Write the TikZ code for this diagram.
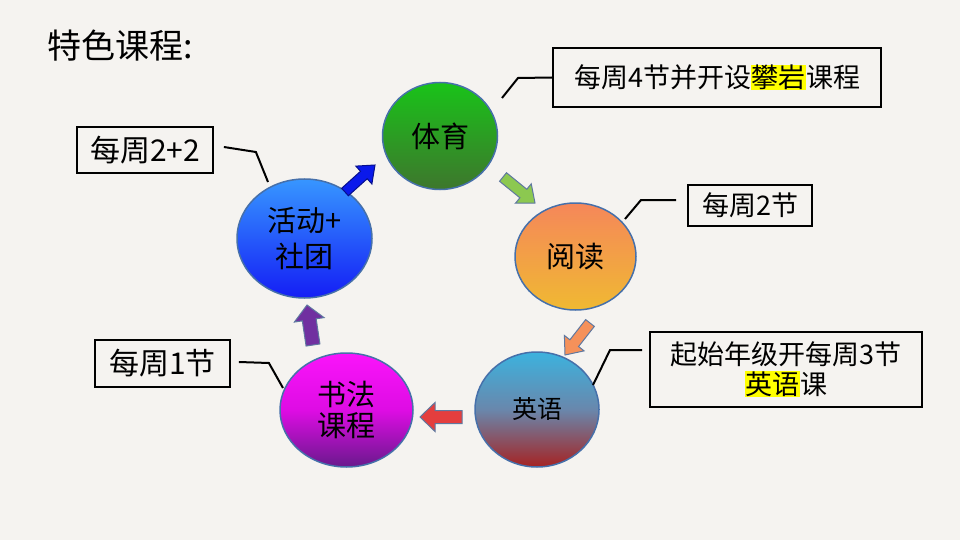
\documentclass[tikz,border=0pt]{standalone}
\usepackage{xcolor}
\usepackage{fontspec}
\setmainfont{Noto Sans CJK SC}
\usepackage{tikz}
\usetikzlibrary{shapes.geometric, calc, positioning}
\definecolor{mypaper}{RGB}{245,243,240}
\definecolor{myrim}{RGB}{70,112,170}
\definecolor{arrrim}{RGB}{95,120,160}
\definecolor{hlyellow}{RGB}{255,255,0}
\definecolor{peTop}{RGB}{25,195,25}
\definecolor{peBot}{RGB}{62,118,45}
\definecolor{rdTop}{RGB}{245,135,90}
\definecolor{rdBot}{RGB}{240,185,50}
\definecolor{enTop}{RGB}{60,178,222}
\definecolor{enMid}{RGB}{105,135,172}
\definecolor{enBot}{RGB}{165,35,35}
\definecolor{clTop}{RGB}{250,20,250}
\definecolor{clMid}{RGB}{222,12,228}
\definecolor{clBot}{RGB}{105,25,140}
\definecolor{acTop}{RGB}{55,150,255}
\definecolor{acBot}{RGB}{20,30,245}
\definecolor{arrblue}{RGB}{10,25,235}
\definecolor{arrgreen}{RGB}{140,200,80}
\definecolor{arrorange}{RGB}{245,145,90}
\definecolor{arrred}{RGB}{228,62,62}
\definecolor{arrpurple}{RGB}{112,48,160}
\tikzset{
  course/.style={ellipse, draw=myrim, line width=1.5pt, inner sep=0pt,
    align=center, font=\fontsize{29}{36}\selectfont},
  note/.style={rectangle, draw=black, line width=1.8pt, inner sep=0pt,
    align=center, font=\fontsize{27}{30}\selectfont},
  leader/.style={line width=2pt, color=black},
  fatarr/.style={draw=arrrim, line width=1pt, line join=miter}
}
\newcommand{\marktext}[1]{{\setlength{\fboxsep}{0.5pt}\colorbox{hlyellow}{#1}}}
% block arrow from tail #2 to tip #3, shaft half width #4, head half width #5
\newcommand{\fatarrow}[5][]{%
  \path ($(#3)!15pt!(#2)$) coordinate (fa-m);
  \draw[fatarr, #1] ($(#2)!#4!90:(#3)$) -- ($(fa-m)!#4!90:(#3)$)
    -- ($(fa-m)!#5!90:(#3)$) -- (#3) -- ($(fa-m)!#5!-90:(#3)$)
    -- ($(fa-m)!#4!-90:(#3)$) -- ($(#2)!#4!-90:(#3)$) -- cycle;
}

\begin{document}
\begin{tikzpicture}[x=1pt, y=-1pt]
  % paper background
  \fill[mypaper] (0,0) rectangle (960,540);
  \useasboundingbox (0,0) rectangle (960,540);

  % TITLE
  \node[anchor=west, font=\fontsize{34}{40}\selectfont] (title) at (44,46) {特色课程:};

  % COURSE CIRCLES
  \node[course, minimum width=115pt, minimum height=107pt,
    top color=peTop, bottom color=peBot] (pe) at (440,136) {体育};
  \node[course, minimum width=121pt, minimum height=107pt,
    top color=rdTop, bottom color=rdBot] (read) at (575.5,256.5) {阅读};
  \node[course, minimum width=124pt, minimum height=115pt, font=\fontsize{25}{30}\selectfont,
    top color=enTop, bottom color=enBot, middle color=enMid] (eng) at (537,409.5) {英语};
  \node[course, minimum width=133pt, minimum height=114pt, font=\fontsize{29}{31}\selectfont,
    top color=clTop, bottom color=clBot, middle color=clMid] (cal) at (346.5,410) {书法\\课程};
  \node[course, minimum width=135pt, minimum height=119pt,
    top color=acTop, bottom color=acBot] (act) at (304.5,238.5) {活动+\\社团};

  % BLOCK ARROWS round the cycle
  \coordinate (b-t) at ($(act)+(40.5,-46.5)$);
  \coordinate (b-h) at ($(pe)+(-65,29)$);
  \fatarrow[fill=arrblue, draw=arrblue!60!black]{b-t}{b-h}{5pt}{12pt}
  \coordinate (g-t) at ($(pe)+(63,41)$);
  \coordinate (g-h) at ($(read)+(-40.5,-53.5)$);
  \fatarrow[fill=arrgreen]{g-t}{g-h}{5.5pt}{12.5pt}
  \coordinate (o-t) at ($(read)+(14.5,66.5)$);
  \coordinate (o-h) at ($(eng)+(28,-54.5)$);
  \fatarrow[fill=arrorange]{o-t}{o-h}{5.5pt}{12.5pt}
  \coordinate (r-t) at ($(eng)+(-75,7.5)$);
  \coordinate (r-h) at ($(cal)+(73.5,7)$);
  \fatarrow[fill=arrred]{r-t}{r-h}{6.5pt}{14.5pt}
  \coordinate (p-t) at ($(cal)+(-33.5,-65)$);
  \coordinate (p-h) at ($(act)+(2.5,66.5)$);
  \fatarrow[fill=arrpurple]{p-t}{p-h}{7pt}{15pt}

  % CALLOUT BOXES
  \node[note, minimum width=328pt, minimum height=59pt] (rock) at (717,77.5)
    {每周4节并开设\marktext{攀岩}课程};
  \node[note, minimum width=124pt, minimum height=41pt] (r2) at (750,205.5) {每周2节};
  \node[note, minimum width=272pt, minimum height=75pt] (e3) at (786,369.5)
    {起始年级开每周3节\\\marktext{英语}课};
  \node[note, minimum width=136pt, minimum height=46pt, font=\fontsize{30}{34}\selectfont] (w22) at (145,150) {每周2+2};
  \node[note, minimum width=135pt, minimum height=47pt, font=\fontsize{30}{34}\selectfont] (w1) at (162.5,363.5) {每周1节};

  % LEADER LINES
  \draw[leader] ($(pe)+(62,-38)$) -- ++(16,-20) -- (rock.west);
  \draw[leader] ($(read)+(49.5,-37.5)$) -- ++(16,-19) -- ($(r2.west)+(-11,-5.5)$);
  \draw[leader] ($(eng)+(56,-24.5)$) -- ++(17,-35) -- ($(e3.west)+(-7,-19.5)$);
  \draw[leader] ($(w22.east)+(10,-3)$) -- ++(32,5) -- ($(act)+(-36.5,-56.5)$);
  \draw[leader] ($(w1.east)+(8,-1.5)$) -- ++(30,1) -- ($(cal)+(-63.5,-22)$);
\end{tikzpicture}
\end{document}
